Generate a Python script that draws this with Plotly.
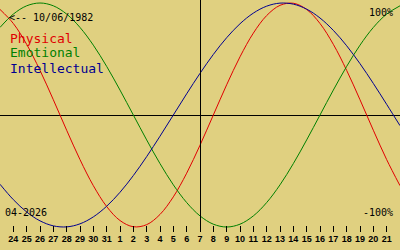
import plotly.graph_objects as go

# day index (0 = 24 March 2026), edge points -1 and 29 run off the plot edges
day_index = list(range(-1, 30))
day_labels = ["23", "24", "25", "26", "27", "28", "29", "30", "31",
              "1", "2", "3", "4", "5", "6", "7", "8", "9", "10", "11",
              "12", "13", "14", "15", "16", "17", "18", "19", "20", "21", "22"]
today_index = 14  # 7 April 2026

physical = [0.9423, 0.8170, 0.6310, 0.3984, 0.1362, -0.1362, -0.3984, -0.6310,
            -0.8170, -0.9423, -0.9977, -0.9791, -0.8879, -0.7308, -0.5196, -0.2698,
            0.0, 0.2698, 0.5196, 0.7308, 0.8879, 0.9791, 0.9977, 0.9423,
            0.8170, 0.6310, 0.3984, 0.1362, -0.1362, -0.3984, -0.6310]
emotional = [0.7818, 0.9010, 0.9749, 1.0, 0.9749, 0.9010, 0.7818, 0.6235,
             0.4339, 0.2225, 0.0, -0.2225, -0.4339, -0.6235, -0.7818, -0.9010,
             -0.9749, -1.0, -0.9749, -0.9010, -0.7818, -0.6235, -0.4339, -0.2225,
             0.0, 0.2225, 0.4339, 0.6235, 0.7818, 0.9010, 0.9749]
intellectual = [-0.6182, -0.7557, -0.8660, -0.9450, -0.9898, -0.9989, -0.9718, -0.9096,
                -0.8146, -0.6901, -0.5406, -0.3717, -0.1893, 0.0, 0.1893, 0.3717,
                0.5406, 0.6901, 0.8146, 0.9096, 0.9718, 0.9989, 0.9898, 0.9450,
                0.8660, 0.7557, 0.6182, 0.4582, 0.2817, 0.0951, -0.0951]

series_names = ["Physical", "Emotional", "Intellectual"]
series_colors = ["#e00000", "#008000", "#000090"]
birth_text = "<-- 10/06/1982"
month_text = "04-2026"

W, H = 400, 250
BG = "#e0d080"
PX_PER_DAY = W / 30.0

fig = go.Figure()
for name, vals, col in zip(series_names, [physical, emotional, intellectual], series_colors):
    fig.add_trace(go.Scatter(x=day_index, y=vals, mode="lines", name=name,
                             line=dict(color=col, width=1, shape="spline"),
                             hoverinfo="skip"))

tick_pos = day_index[1:-1]
tick_txt = day_labels[1:-1]

fig.update_layout(
    width=W, height=H, margin=dict(l=0, r=0, t=0, b=0),
    paper_bgcolor=BG, plot_bgcolor=BG, showlegend=False,
    xaxis=dict(range=[-1, 29], showgrid=False, zeroline=False, showline=False,
               anchor="free", position=(H - 224.5) / H,
               tickmode="array", tickvals=tick_pos, ticktext=tick_txt,
               ticks="outside", ticklen=6, tickwidth=1, tickcolor="black",
               tickfont=dict(family="Liberation Sans", size=9, color="black", weight="bold"),
               fixedrange=True),
    yaxis=dict(range=[-135 / 112, 115 / 112], showgrid=False, showticklabels=False,
               zeroline=True, zerolinecolor="black", zerolinewidth=1, showline=False,
               ticks="", fixedrange=True),
)

# today marker: offset half a pixel so the 1px line stays crisp
fig.add_shape(type="line", xref="x", yref="paper",
              x0=today_index + 0.5 / PX_PER_DAY, x1=today_index + 0.5 / PX_PER_DAY,
              y0=(H - 231) / H, y1=1, line=dict(color="black", width=1))

def px(x, y):
    return x / W, 1 - y / H

def ann(text, x, y, color, size, xanchor="left"):
    ax, ay = px(x, y)
    fig.add_annotation(text=text, x=ax, y=ay, xref="paper", yref="paper",
                       xanchor=xanchor, yanchor="middle", showarrow=False,
                       font=dict(family="DejaVu Sans Mono", size=size, color=color),
                       borderpad=0)

ann(birth_text, 8, 17, "black", 10)
for i, (name, col) in enumerate(zip(series_names, series_colors)):
    ann(name, 9, 38 + 15 * i, col, 13)
ann("100%", 394, 12, "black", 10, "right")
ann("-100%", 394, 212.5, "black", 10, "right")
ann(month_text, 4, 212, "black", 10)

fig.write_html("out.html")
